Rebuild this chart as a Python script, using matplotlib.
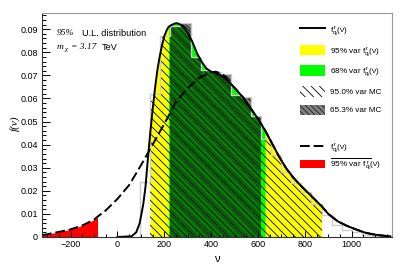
import matplotlib
matplotlib.use('Agg')
import matplotlib.pyplot as plt
import numpy as np
from matplotlib.lines import Line2D
from matplotlib.patches import Patch
from matplotlib.ticker import MultipleLocator, FuncFormatter

plt.rcParams['font.family'] = ['Liberation Sans', 'DejaVu Sans']
plt.rcParams['hatch.linewidth'] = 0.6

# Solid curve f(v)
solid_x = [0, 60, 80, 95, 110, 120, 130, 140, 150, 160, 170, 180, 190, 200, 210, 218,
           230, 245, 255, 265, 280, 300, 320, 340, 360, 380, 400, 420, 450, 480, 510,
           540, 570, 600, 630, 660, 690, 720, 750, 780, 810, 840, 872, 900, 940, 980,
           1020, 1060, 1100, 1140, 1165]
solid_y = [0.0, 0.0003, 0.002, 0.006, 0.014, 0.022, 0.034, 0.045, 0.055, 0.064, 0.072,
           0.078, 0.083, 0.087, 0.0895, 0.091, 0.0918, 0.0925, 0.0926, 0.0922, 0.0912,
           0.0885, 0.0845, 0.0795, 0.0758, 0.0730, 0.0716, 0.0710, 0.0695, 0.0668,
           0.0635, 0.060, 0.0555, 0.0512, 0.0462, 0.0405, 0.0348, 0.0298, 0.0258,
           0.0225, 0.0195, 0.0165, 0.0133, 0.0100, 0.0068, 0.0048, 0.0032, 0.0018,
           0.001, 0.0005, 0.0003]

# Dashed curve f(v) for the second case
dashed_x = [-322, -300, -250, -200, -150, -100, -85, -50, 0, 50, 100, 150, 200, 250,
            300, 350, 400, 420, 450, 480, 510, 540, 570, 600, 630, 660, 690, 720, 750,
            780, 810, 840, 872, 900, 940, 980, 1020, 1060, 1100, 1140, 1165]
dashed_y = [0.0008, 0.0012, 0.0022, 0.0033, 0.0050, 0.0075, 0.0088, 0.0115, 0.0165,
            0.0225, 0.031, 0.040, 0.049, 0.0585, 0.0645, 0.069, 0.0714, 0.0716, 0.0705,
            0.0668, 0.0635, 0.060, 0.0555, 0.0512, 0.0462, 0.0405, 0.0348, 0.0298,
            0.0258, 0.0225, 0.0195, 0.0165, 0.0133, 0.0100, 0.0068, 0.0048, 0.0032,
            0.0018, 0.001, 0.0005, 0.0003]

# MC histogram
mc_edges = [97, 140, 183, 226, 269, 312, 355, 398, 441, 484, 527, 570, 613, 656, 699,
            742, 785, 828, 871, 914, 957, 1000, 1043, 1086, 1129]
mc_heights = [0.024, 0.062, 0.087, 0.0915, 0.0926, 0.078, 0.0724, 0.0715, 0.0705,
              0.0615, 0.0605, 0.0525, 0.0425, 0.0355, 0.0283, 0.0233, 0.0195, 0.0145,
              0.0095, 0.0052, 0.003, 0.002, 0.001, 0.0005]

# interval limits
band95 = (140, 872)
band68 = (218, 630)
mc95 = (140, 871)
mc65 = (226, 613)
red_band = (-322, -85)

fig = plt.figure(figsize=(4.13, 2.64), dpi=100)
ax = fig.add_axes([0.1017, 0.1023, 0.8475, 0.8473])

sx = np.array(solid_x)
sy = np.array(solid_y)
dx = np.array(dashed_x)
dy = np.array(dashed_y)

ax.fill_between(dx, dy, where=(dx >= red_band[0]) & (dx <= red_band[1]), color='#ff0000', lw=0)
ax.fill_between(sx, sy, where=(sx >= band95[0]) & (sx <= band95[1]), color='#ffff00', lw=0)
ax.fill_between(sx, sy, where=(sx >= band68[0]) & (sx <= band68[1]), color='#00ff00', lw=0)

edges = np.array(mc_edges)
heights = np.array(mc_heights)
lefts = edges[:-1]
widths = np.diff(edges)
sel95 = (lefts >= mc95[0]) & (edges[1:] <= mc95[1])
sel65 = (lefts >= mc65[0]) & (edges[1:] <= mc65[1])
ax.bar(lefts[sel95], heights[sel95], widths[sel95], align='edge', facecolor='none',
       edgecolor='black', lw=0, hatch='\\\\\\\\')
ax.bar(lefts[sel65], heights[sel65], widths[sel65], align='edge',
       facecolor=(0, 0, 0, 0.5), edgecolor='#222222', lw=0, hatch='\\\\\\\\\\\\')
ax.stairs(heights, edges, color='#cccccc', lw=1.0)

ax.plot(sx, sy, color='black', lw=1.4)
ax.plot(dx, dy, color='black', lw=1.4, dashes=(5, 2))

ax.set_xlim(-322, 1172)
ax.set_ylim(0, 0.0969)
ax.xaxis.set_major_locator(MultipleLocator(200))
ax.xaxis.set_minor_locator(MultipleLocator(50))
ax.yaxis.set_major_locator(MultipleLocator(0.01))
ax.yaxis.set_minor_locator(MultipleLocator(0.002))
ax.yaxis.set_major_formatter(FuncFormatter(lambda v, p: '0' if abs(v) < 1e-9 else '%.2f' % v))
ax.tick_params(axis='both', which='both', direction='in', labelsize=6.5, width=0.7)
ax.tick_params(axis='y', which='major', length=6, pad=3)
ax.tick_params(axis='y', which='minor', length=3)
ax.tick_params(axis='x', which='major', length=4.5, pad=2)
ax.tick_params(axis='x', which='minor', length=2.5)
for side in ['top', 'right']:
    ax.spines[side].set_color('#999999')
for side in ['left', 'bottom']:
    ax.spines[side].set_color('#333333')
for s in ax.spines.values():
    s.set_linewidth(0.8)

ax.set_xlabel('ν', fontsize=8, labelpad=4)
fig.text(15 / 413, 1 - 123 / 264, 'f(ν)', rotation=90, fontsize=8, ha='center', va='center',
         family='Liberation Serif', style='italic')

fig.text(57 / 413, 1 - 33 / 264, '95%', fontsize=6.8, family='Liberation Serif', style='italic',
         va='center')
fig.text(82 / 413, 1 - 33 / 264, 'U.L. distribution', fontsize=6.6, va='center')
fig.text(57 / 413, 1 - 47 / 264, 'm', fontsize=6.8, family='Liberation Serif', style='italic',
         va='center')
fig.text(65 / 413, 1 - 49 / 264, 'χ', fontsize=5, family='Liberation Serif', style='italic',
         va='center')
fig.text(71 / 413, 1 - 47 / 264, '= 3.17', fontsize=6.8, family='Liberation Serif', style='italic',
         va='center')
fig.text(102 / 413, 1 - 47 / 264, 'TeV', fontsize=6.6, va='center')

flab = r'$\mathregular{f^{\,r}_{q_{l}}(\nu)}$'
handles1 = [
    Line2D([], [], color='black', lw=1.4),
    Patch(facecolor='#ffff00', edgecolor='none'),
    Patch(facecolor='#00ff00', edgecolor='none'),
    Patch(facecolor='white', edgecolor='black', lw=0, hatch='\\\\\\\\'),
    Patch(facecolor=(0, 0, 0, 0.5), edgecolor='#222222', lw=0, hatch='\\\\\\\\\\\\'),
]
labels1 = [flab, '95% var ' + flab, '68% var ' + flab, '95.0% var MC', '65.3% var MC']
leg1 = ax.legend(handles1, labels1, loc='upper left', bbox_to_anchor=(300 / 413, 1 - 24 / 264),
                 bbox_transform=fig.transFigure, frameon=False, fontsize=5.9,
                 handlelength=3.1, handleheight=1.6, labelspacing=0.95, handletextpad=0.5,
                 borderaxespad=0, borderpad=0)
ax.add_artist(leg1)

handles2 = [
    Line2D([], [], color='black', lw=1.4, dashes=(5, 2)),
    Patch(facecolor='#ff0000', edgecolor='none'),
]
labels2 = [flab, r'$\mathregular{\overline{95\%\ var\ f^{\,r}_{q_{l}}}(\nu)}$']
ax.legend(handles2, labels2, loc='upper left', bbox_to_anchor=(300 / 413, 1 - 141 / 264),
          bbox_transform=fig.transFigure, frameon=False, fontsize=5.9,
          handlelength=3.1, handleheight=1.1, labelspacing=0.3, handletextpad=0.5,
          borderaxespad=0, borderpad=0)

fig.savefig('out.png', dpi=100)
